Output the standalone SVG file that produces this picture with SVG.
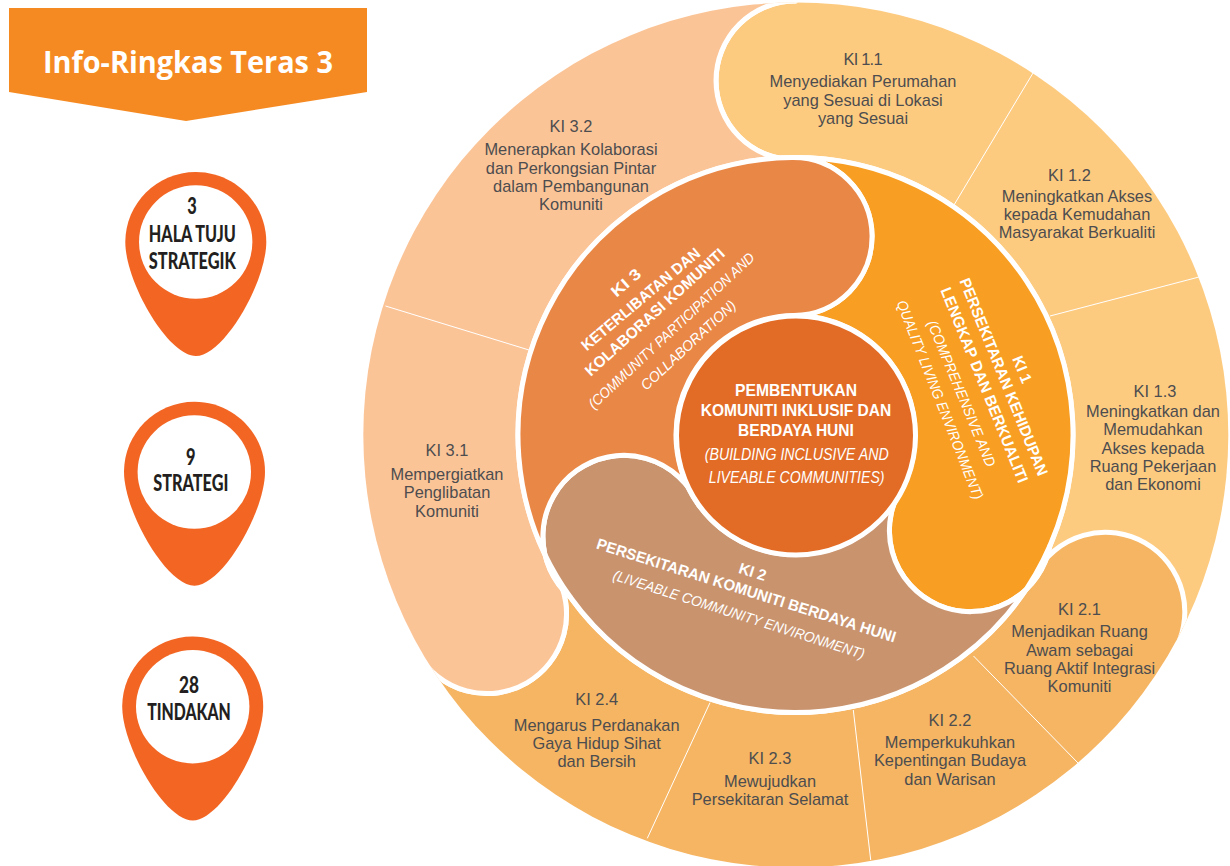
<svg xmlns="http://www.w3.org/2000/svg" width="1230" height="866" viewBox="0 0 1230 866">
<style>
.r{stroke:#fff;stroke-width:5;stroke-linejoin:round}
.d{stroke:#fff;stroke-width:1;fill:none}
.t{font-family:"Liberation Sans",Arial,sans-serif;font-size:16.4px;fill:#4D4D4F;text-anchor:middle}
.b{font-family:"Liberation Sans",Arial,sans-serif;font-weight:700;font-size:15.5px;fill:#fff;text-anchor:middle}
.i{font-family:"Liberation Sans",Arial,sans-serif;font-style:italic;font-size:14.5px;fill:#fff;text-anchor:middle}
.p{font-family:Lato,"Open Sans",sans-serif;font-weight:900;font-size:22px;fill:#231F20;text-anchor:middle}
</style>
<defs>
<clipPath id="rim"><circle cx="795.8" cy="435" r="432.5"/></clipPath>
<path id="pin" fill="#F36523" d="M0,0C38.9,0 70.5,31.6 70.5,70C70.5,110 28,184 0,184C-28,184 -70.5,110 -70.5,70C-70.5,31.6 -38.9,0 0,0Z"/>
</defs>
<rect width="1230" height="866" fill="#fff"/>

<g id="banner">
<polygon points="9,8 367,8 367,92 186,121 9,92" fill="#F68A22"/>
<text x="188" y="72.5" font-family="'Open Sans',sans-serif" font-weight="700" font-size="29.5" fill="#fff" text-anchor="middle" textLength="290" lengthAdjust="spacingAndGlyphs">Info-Ringkas Teras 3</text>
</g>

<g id="pin-hala-tuju">
<use href="#pin" x="195.8" y="172"/>
<circle cx="195.7" cy="242" r="56.7" fill="#fff"/>
<text class="p" x="192" y="214" textLength="9.5" lengthAdjust="spacingAndGlyphs">3</text>
<text class="p" x="192.3" y="242" textLength="87" lengthAdjust="spacingAndGlyphs">HALA TUJU</text>
<text class="p" x="192.3" y="269" textLength="87" lengthAdjust="spacingAndGlyphs">STRATEGIK</text>
</g>
<g id="pin-strategi">
<use href="#pin" x="194.5" y="401.7"/>
<circle cx="194.3" cy="472" r="56.7" fill="#fff"/>
<text class="p" x="190.7" y="465" textLength="9.5" lengthAdjust="spacingAndGlyphs">9</text>
<text class="p" x="190.8" y="491" textLength="75" lengthAdjust="spacingAndGlyphs">STRATEGI</text>
</g>
<g id="pin-tindakan">
<use href="#pin" x="192.7" y="636.5"/>
<circle cx="192.7" cy="706.7" r="56.7" fill="#fff"/>
<text class="p" x="189" y="693.3" textLength="20" lengthAdjust="spacingAndGlyphs">28</text>
<text class="p" x="189" y="720" textLength="83.5" lengthAdjust="spacingAndGlyphs">TINDAKAN</text>
</g>

<g clip-path="url(#rim)">
<path id="ring-1" class="r" fill="#FDCB80" d="M795.5,160A79.5,79.5 0 1 1 795.5,1L795.5,-20A455,455 0 0 1 1189.5,662.5L1172.8,653.75A79.5,79.5 0 0 0 1035.2,574.25L1029.3,570A270,270 0 0 0 795.5,165Z"/>
<path id="ring-2" class="r" fill="#F5B563" d="M1035.2,574.25A79.5,79.5 0 1 1 1172.8,653.75L1189.5,662.5A455,455 0 0 1 401.5,662.5L418.2,653.9A79.5,79.5 0 0 0 555.8,574.1L561.7,570A270,270 0 0 0 1029.3,570Z"/>
<path id="ring-3" class="r" fill="#FBC497" d="M555.8,574.1A79.5,79.5 0 1 1 418.2,653.9L401.5,662.5A455,455 0 0 1 795.5,-20L795.5,1A79.5,79.5 0 0 0 795.5,160L795.5,165A270,270 0 0 0 561.7,570Z"/>
</g>

<g id="connectors">
<path class="d" d="M1033,73L954,205"/>
<path class="d" d="M1199,277L1050,316"/>
<path class="d" d="M973.5,656L1078,763"/>
<path class="d" d="M853.3,710L870.7,860"/>
<path class="d" d="M710,702.7L647.3,838.3"/>
<path class="d" d="M385.5,306L529,350"/>
</g>

<circle id="disc" cx="795.5" cy="435" r="280" fill="#fff"/>

<g id="ki-1">
<path class="r" fill="#F89E22" d="M792.1,157.5A277.5,277.5 0 0 1 1050,545.6A81,81 0 1 1 905.1,482.7A119.5,119.5 0 0 0 794,315.5A79,79 0 0 0 792.1,157.5Z"/>
<g transform="rotate(68 1022.4 369.4)"><text class="b" x="1022.4" y="374.9" textLength="28" lengthAdjust="spacingAndGlyphs">KI 1</text></g>
<g transform="rotate(68 1003.9 376.8)"><text class="b" x="1003.9" y="382.3" textLength="211.6" lengthAdjust="spacingAndGlyphs">PERSEKITARAN KEHIDUPAN</text></g>
<g transform="rotate(68 984.6 384.9)"><text class="b" x="984.6" y="390.4" textLength="209" lengthAdjust="spacingAndGlyphs">LENGKAP DAN BERKUALITI</text></g>
<g transform="rotate(67.5 961.7 393.4)"><text class="i" x="961.7" y="398.6" textLength="156.7" lengthAdjust="spacingAndGlyphs">(COMPREHENSIVE AND</text></g>
<g transform="rotate(68.5 940.2 399.7)"><text class="i" x="940.2" y="404.9" textLength="212.6" lengthAdjust="spacingAndGlyphs">QUALITY LIVING ENVIRONMENT)</text></g>
</g>

<g id="ki-2">
<path class="r" fill="#C9936E" d="M1050,545.6A81,81 0 1 1 905.1,482.7A119.5,119.5 0 0 1 698.5,504.8A81,81 0 1 0 570.2,597A277.5,277.5 0 0 0 1050,545.6Z"/>
<g transform="rotate(17.5 752.7 571.7)"><text class="b" x="752.7" y="577.2" textLength="28" lengthAdjust="spacingAndGlyphs">KI 2</text></g>
<g transform="rotate(17.5 746.4 590.2)"><text class="b" x="746.4" y="595.7" textLength="313" lengthAdjust="spacingAndGlyphs">PERSEKITARAN KOMUNITI BERDAYA HUNI</text></g>
<g transform="rotate(17.6 739 614.3)"><text class="i" x="739" y="619.5" textLength="263" lengthAdjust="spacingAndGlyphs">(LIVEABLE COMMUNITY ENVIRONMENT)</text></g>
</g>

<g id="ki-3">
<path class="r" fill="#E98747" d="M792.1,157.5A79,79 0 0 1 794,315.5A119.5,119.5 0 0 0 698.5,504.8A81,81 0 1 0 570.2,597A277.5,277.5 0 0 1 792.1,157.5Z"/>
<g transform="rotate(-41 625.8 282.4)"><text class="b" x="625.8" y="287.9" textLength="34" lengthAdjust="spacingAndGlyphs">KI 3</text></g>
<g transform="rotate(-40 640.6 299)"><text class="b" x="640.6" y="304.5" textLength="150" lengthAdjust="spacingAndGlyphs">KETERLIBATAN DAN</text></g>
<g transform="rotate(-42 654.6 312)"><text class="b" x="654.6" y="317.5" textLength="182" lengthAdjust="spacingAndGlyphs">KOLABORASI KOMUNITI</text></g>
<g transform="rotate(-43 671.3 330.5)"><text class="i" x="671.3" y="335.7" textLength="221" lengthAdjust="spacingAndGlyphs">(COMMUNITY PARTICIPATION AND</text></g>
<g transform="rotate(-43 688 345)"><text class="i" x="688" y="350.2" textLength="124" lengthAdjust="spacingAndGlyphs">COLLABORATION)</text></g>
</g>

<g id="ki-centre">
<circle cx="796" cy="435.5" r="119.5" class="r" fill="#E26C26"/>
<text class="b" style="font-size:17px" x="796" y="396.4" textLength="122" lengthAdjust="spacingAndGlyphs">PEMBENTUKAN</text>
<text class="b" style="font-size:17px" x="796" y="416.4" textLength="190.5" lengthAdjust="spacingAndGlyphs">KOMUNITI INKLUSIF DAN</text>
<text class="b" style="font-size:17px" x="796" y="436" textLength="115.8" lengthAdjust="spacingAndGlyphs">BERDAYA HUNI</text>
<text class="i" style="font-size:16px" x="796.7" y="459.5" textLength="184" lengthAdjust="spacingAndGlyphs">(BUILDING INCLUSIVE AND</text>
<text class="i" style="font-size:16px" x="796.7" y="483" textLength="175.7" lengthAdjust="spacingAndGlyphs">LIVEABLE COMMUNITIES)</text>
</g>

<g id="ki-1-1">
<text class="t" x="863" y="65" textLength="39" lengthAdjust="spacing">KI 1.1</text>
<text class="t" x="863" y="87.3">Menyediakan Perumahan</text>
<text class="t" x="863" y="105.6">yang Sesuai di Lokasi</text>
<text class="t" x="863" y="124">yang Sesuai</text>
</g>
<g id="ki-1-2">
<text class="t" x="1069.5" y="180.5">KI 1.2</text>
<text class="t" x="1077" y="202">Meningkatkan Akses</text>
<text class="t" x="1077" y="220">kepada Kemudahan</text>
<text class="t" x="1077" y="238.3">Masyarakat Berkualiti</text>
</g>
<g id="ki-1-3">
<text class="t" x="1155" y="396.5">KI 1.3</text>
<text class="t" x="1153" y="417">Meningkatkan dan</text>
<text class="t" x="1153" y="435">Memudahkan</text>
<text class="t" x="1153" y="453.5">Akses kepada</text>
<text class="t" x="1153" y="472">Ruang Pekerjaan</text>
<text class="t" x="1153" y="490">dan Ekonomi</text>
</g>
<g id="ki-2-1">
<text class="t" x="1079.5" y="614.5">KI 2.1</text>
<text class="t" x="1079.5" y="637">Menjadikan Ruang</text>
<text class="t" x="1079.5" y="655.5">Awam sebagai</text>
<text class="t" x="1079.5" y="674">Ruang Aktif Integrasi</text>
<text class="t" x="1079.5" y="692">Komuniti</text>
</g>
<g id="ki-2-2">
<text class="t" x="950" y="726">KI 2.2</text>
<text class="t" x="950" y="748">Memperkukuhkan</text>
<text class="t" x="950" y="766">Kepentingan Budaya</text>
<text class="t" x="950" y="785">dan Warisan</text>
</g>
<g id="ki-2-3">
<text class="t" x="770" y="764">KI 2.3</text>
<text class="t" x="770" y="787">Mewujudkan</text>
<text class="t" x="770" y="805">Persekitaran Selamat</text>
</g>
<g id="ki-2-4">
<text class="t" x="596.7" y="705">KI 2.4</text>
<text class="t" x="596.7" y="731">Mengarus Perdanakan</text>
<text class="t" x="596.7" y="749">Gaya Hidup Sihat</text>
<text class="t" x="596.7" y="767">dan Bersih</text>
</g>
<g id="ki-3-1">
<text class="t" x="447" y="456">KI 3.1</text>
<text class="t" x="447" y="480">Mempergiatkan</text>
<text class="t" x="447" y="498">Penglibatan</text>
<text class="t" x="447" y="517">Komuniti</text>
</g>
<g id="ki-3-2">
<text class="t" x="571" y="132">KI 3.2</text>
<text class="t" x="571" y="155">Menerapkan Kolaborasi</text>
<text class="t" x="571" y="173.5">dan Perkongsian Pintar</text>
<text class="t" x="571" y="192">dalam Pembangunan</text>
<text class="t" x="571" y="210">Komuniti</text>
</g>
</svg>
